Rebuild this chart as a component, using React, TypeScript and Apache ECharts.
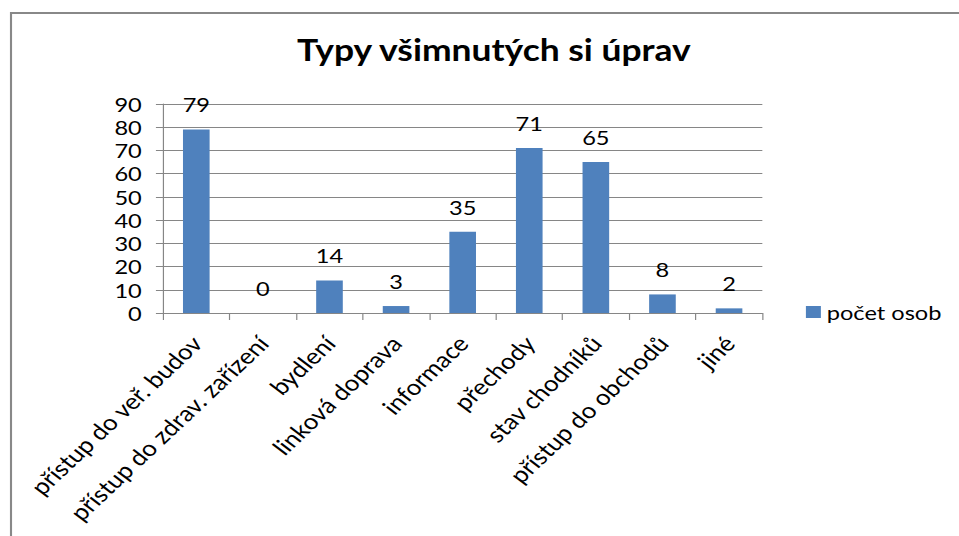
import React, { useEffect, useRef } from "react";
import * as echarts from "echarts";

const categories = [
  "přístup do veř. budov",
  "přístup do zdrav. zařízení",
  "bydlení",
  "linková doprava",
  "informace",
  "přechody",
  "stav chodníků",
  "přístup do obchodů",
  "jiné",
];
const values = [79, 0, 14, 3, 35, 71, 65, 8, 2];
const seriesName = "počet osob";
const titleText = "Typy všimnutých si úprav";

const FONT = "Lato, 'Open Sans', sans-serif";
// The reference picture is horizontally stretched; reproduce that with a scaleX.
const SX = 1.18;
const W = 959 / SX;
const H = 536;

export default function App() {
  const ref = useRef<HTMLDivElement>(null);
  useEffect(() => {
    if (!ref.current) return;
    const chart = echarts.init(ref.current, null, { renderer: "svg" });
    chart.setOption({
      animation: false,
      backgroundColor: "#fff",
      title: {
        text: titleText,
        left: 488 / SX,
        textAlign: "center",
        top: 30,
        textStyle: { fontFamily: FONT, fontSize: 30, fontWeight: "bold", color: "#000" },
      },
      legend: {
        data: [seriesName],
        left: 800 / SX,
        top: 297,
        icon: "rect",
        itemWidth: 12.7,
        itemHeight: 12,
        itemGap: 4,
        textStyle: { fontFamily: FONT, fontSize: 20, color: "#000" },
      },
      graphic: [
        {
          type: "rect",
          shape: { x: 11 / SX, y: 13, width: 1000, height: 600 },
          style: { fill: "none", stroke: "#888", lineWidth: 1.8 },
          silent: true,
        },
      ],
      grid: { left: 163 / SX, right: W - 762 / SX, top: 104, bottom: H - 313 },
      xAxis: {
        type: "category",
        data: categories,
        boundaryGap: true,
        axisLine: { lineStyle: { color: "#868686", width: 1 } },
        axisTick: { show: true, length: 7, lineStyle: { color: "#868686" } },
        axisLabel: {
          rotate: 48,
          interval: 0,
          margin: 26,
          fontFamily: FONT,
          fontSize: 22,
          color: "#000",
        },
      },
      yAxis: {
        type: "value",
        min: 0,
        max: 90,
        interval: 10,
        axisLine: { show: true, lineStyle: { color: "#868686", width: 1 } },
        axisTick: { show: true, length: 6, lineStyle: { color: "#868686" } },
        splitLine: { show: true, lineStyle: { color: "#868686", width: 1 } },
        axisLabel: { margin: 18, fontFamily: FONT, fontSize: 20, color: "#000" },
      },
      series: [
        {
          name: seriesName,
          type: "bar",
          data: values,
          barWidth: "40%",
          itemStyle: { color: "#4F81BD" },
          label: {
            show: true,
            position: "top",
            distance: 15,
            fontFamily: FONT,
            fontSize: 20,
            color: "#000",
          },
        },
      ],
    });
    return () => chart.dispose();
  }, []);
  return (
    <div
      style={{
        position: "fixed",
        left: 0,
        top: 0,
        width: 959,
        height: H,
        overflow: "hidden",
        background: "#fff",
      }}
    >
      <div
        ref={ref}
        style={{
          width: W,
          height: H,
          transform: `scaleX(${SX})`,
          transformOrigin: "0 0",
        }}
      />
    </div>
  );
}
